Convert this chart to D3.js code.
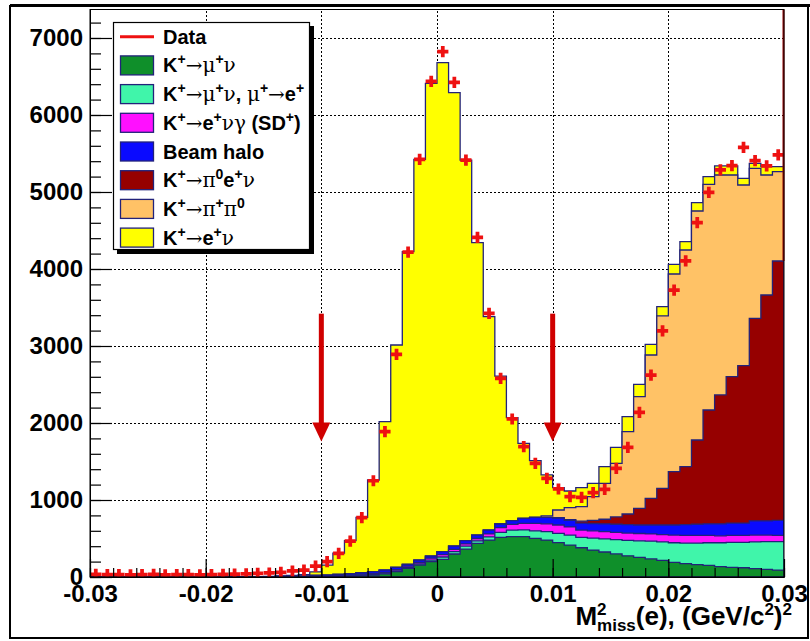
<!DOCTYPE html>
<html>
<head>
<meta charset="utf-8">
<script src="https://cdn.jsdelivr.net/npm/d3@7"></script>
<style>
  body { margin: 0; background: #fff; }
  svg { display: block; }
  text { font-family: "Liberation Sans", Arial, sans-serif; font-weight: bold; fill: #000; }
</style>
</head>
<body>
<svg id="chart" width="810" height="641"></svg>
<script>
// binning: 60 bins of M2miss(e) from -0.03 to 0.03 (GeV/c2)2
const binLo = -0.03
const binHi = 0.03
const nBins = 60

// MC components, entries per bin (stack order bottom -> top)
const kmunu = [0,0,0,0,0,0,0,0,0,0, 0,0,0,0,0,0,0,0,0,3,
  5,8,15,20,26,40,69,112,156,199, 229,299,363,437,480,515,524,524,502,480,
  446,415,380,350,325,300,275,255,235,215, 190,175,160,150,134,125,120,110,100,90]
const kmunuMuE = [0,0,0,0,0,0,0,0,0,0, 0,0,0,0,0,0,0,0,0,2,
  3,4,5,8,9,10,11,13,14,21, 31,31,37,33,40,65,86,88,98,110,
  121,130,135,155,170,185,200,215,230,240, 255,265,280,295,311,325,330,345,360,370]
const kenugSD = [0,0,0,0,0,0,0,0,0,0, 0,0,0,0,0,0,0,0,0,2,
  2,3,5,7,10,10,15,15,20,25, 30,30,30,30,40,60,74,85,97,100,
  108,105,95,95,95,95,95,95,95,95, 100,100,100,95,90,90,90,90,85,80]
const beamHalo = [0,0,0,0,0,0,0,0,0,0, 0,2,3,4,5,6,8,10,12,15,
  15,20,20,20,24,30,30,25,30,27, 39,42,42,45,50,48,47,65,78,85,
  90,85,90,95,100,105,110,110,115,125, 130,140,145,150,155,160,160,185,185,195]
const ke3 = [0,0,0,0,0,0,0,0,0,0, 0,0,0,0,0,0,0,0,0,0,
  0,0,0,0,0,0,0,0,0,0, 0,0,0,0,0,0,0,0,0,0,
  5,10,25,40,60,95,138,217,347,477, 693,753,1094,1479,1674,1902,2045,2629,2932,3369]
const kpipi0 = [0,0,0,0,0,0,0,0,0,0, 0,0,0,0,0,0,0,0,0,0,
  0,0,0,0,0,0,0,0,0,0, 0,0,0,0,0,0,0,0,0,20,
  100,155,188,308,466,696,1069,1450,1861,2238, 2567,2814,2974,2931,2857,2619,2346,1948,1559,1160]
const kenu = [0,0,0,0,0,0,0,0,0,0, 0,0,0,0,0,2,5,10,18,45,
  130,275,427,720,1191,1927,2888,4060,5204,6139, 6351,5888,4943,3797,2771,1922,1338,974,736,530,
  290,217,247,173,217,208,195,160,139,121, 126,108,108,99,117,117,87,65,108,65]

// data, entries per bin
const dataCounts = [35,30,32,28,30,33,28,30,32,28, 30,35,38,42,48,52,60,78,88,142,
  199,307,466,770,1250,1887,2892,4220,5424,6437, 6822,6424,5415,4411,3424,2580,2052,1692,1476,1281,
  1143,1043,1035,1095,1139,1411,1684,2139,2623,3195, 3727,4104,4601,4996,5286,5342,5580,5407,5338,5481]

const stackColors = ['#0f8f2a', '#40f5aa', '#ff10ff', '#0a0aff', '#960000', '#ffc266', '#ffff00']
const legendLabels = ['Data', 'K^{+}→μ^{+}ν', 'K^{+}→μ^{+}ν, μ^{+}→e^{+}', 'K^{+}→e^{+}νγ (SD^{+})',
  'Beam halo', 'K^{+}→π^{0}e^{+}ν', 'K^{+}→π^{+}π^{0}', 'K^{+}→e^{+}ν']

const xMajor = [-0.03, -0.02, -0.01, 0, 0.01, 0.02, 0.03]
const yMajor = [0, 1000, 2000, 3000, 4000, 5000, 6000, 7000]
const yMax = 7370

// selection cut arrows (x position, from, to in entries)
const cutX = [-0.01, 0.01]
const cutFrom = 3420
const cutTo = 1760

const svg = d3.select('#chart')
const x = d3.scaleLinear().domain([binLo, binHi]).range([90, 784])
const y = d3.scaleLinear().domain([0, yMax]).range([577, 9.5])
const bw = (binHi - binLo) / nBins
const edges = d3.range(nBins + 1).map(i => binLo + i * bw)

// outer canvas frame
svg.append('rect').attr('x', 10).attr('y', 6).attr('width', 798).attr('height', 632)
  .attr('fill', '#fff').attr('stroke', '#000').attr('stroke-width', 2)
svg.append('line').attr('x1', 10).attr('x2', 810).attr('y1', 5.5).attr('y2', 5.5)
  .attr('stroke', '#000').attr('stroke-width', 3)

svg.append('clipPath').attr('id', 'plotclip').append('rect')
  .attr('x', x(binLo)).attr('y', y(yMax)).attr('width', x(binHi) - x(binLo)).attr('height', y(0) - y(yMax))

// grid
const grid = svg.append('g').attr('stroke', '#000').attr('stroke-width', 1).attr('stroke-dasharray', '2,2')
grid.selectAll('.gx').data(xMajor.slice(1, -1)).join('line')
  .attr('x1', d => Math.round(x(d)) + 0.5).attr('x2', d => Math.round(x(d)) + 0.5)
  .attr('y1', y(0)).attr('y2', y(yMax))
grid.selectAll('.gy').data(yMajor.slice(1)).join('line')
  .attr('y1', d => Math.round(y(d)) + 0.5).attr('y2', d => Math.round(y(d)) + 0.5)
  .attr('x1', x(binLo)).attr('x2', x(binHi))

// stacked histograms: cumulative sums, drawn from the top one down
const comps = [kmunu, kmunuMuE, kenugSD, beamHalo, ke3, kpipi0, kenu]
const cums = []
let run = d3.range(nBins).map(() => 0)
comps.forEach(c => { run = run.map((v, i) => v + c[i]); cums.push(run) })

const area = d3.area()
  .x((d, i) => x(edges[i]))
  .y0(y(0))
  .y1(d => y(d))
  .curve(d3.curveStepAfter)

const hist = svg.append('g').attr('clip-path', 'url(#plotclip)')
for (let k = comps.length - 1; k >= 0; k--) {
  const vals = cums[k].concat([cums[k][nBins - 1]])
  hist.append('path').attr('d', area(vals))
    .attr('fill', stackColors[k]).attr('stroke', '#22227a').attr('stroke-width', 1.3)
}

// data points
const cross = d3.symbol(d3.symbolCross, 70)
svg.append('g').attr('clip-path', 'url(#plotclip)')
  .selectAll('path').data(dataCounts).join('path')
  .attr('d', cross)
  .attr('transform', (d, i) => `translate(${x(binLo + (i + 0.5) * bw)},${y(d)})`)
  .attr('fill', '#ee1111')

// red line on the right edge
svg.append('line').attr('x1', x(binHi) - 0.5).attr('x2', x(binHi) - 0.5)
  .attr('y1', y(yMax)).attr('y2', y(cums[4][nBins - 1]))
  .attr('stroke', '#960000').attr('stroke-width', 2)

// cut arrows
const arrows = svg.append('g').attr('fill', '#d00000')
cutX.forEach(cx => {
  const px = x(cx)
  const yTop = y(cutFrom), yTip = y(cutTo), yHead = yTip - 19
  arrows.append('rect').attr('x', px - 2.5).attr('y', yTop).attr('width', 5).attr('height', yHead - yTop + 1)
  arrows.append('path').attr('d', `M${px - 9},${yHead}L${px + 9},${yHead}L${px},${yTip}Z`)
})

// frame
svg.append('rect').attr('x', x(binLo)).attr('y', y(yMax))
  .attr('width', x(binHi) - x(binLo)).attr('height', y(0) - y(yMax))
  .attr('fill', 'none').attr('stroke', '#000').attr('stroke-width', 1)

// axes
const fmtX = d => Math.abs(d) < 1e-9 ? '0' : d.toFixed(2)
const xAxis = svg.append('g').attr('transform', `translate(0,${y(0)})`)
  .call(d3.axisBottom(x).tickValues(xMajor).tickSize(-18).tickSizeOuter(0).tickPadding(8).tickFormat(fmtX))
xAxis.append('g').call(d3.axisBottom(x).tickValues(d3.range(-0.03, 0.0301, 0.002)).tickSize(-9).tickSizeOuter(0).tickFormat(''))
const yAxis = svg.append('g').attr('transform', `translate(${x(binLo)},0)`)
  .call(d3.axisLeft(y).tickValues(yMajor).tickSize(-22).tickSizeOuter(0).tickPadding(7).tickFormat(d3.format('d')))
yAxis.append('g').call(d3.axisLeft(y).tickValues(d3.range(0, yMax, 200)).tickSize(-11).tickSizeOuter(0).tickFormat(''))
svg.selectAll('.tick line').attr('stroke', '#000').attr('stroke-width', 1.2)
svg.selectAll('.domain').attr('stroke', '#000')
svg.selectAll('.tick text').attr('font-size', 24).attr('font-weight', 'bold')
  .attr('font-family', '"Liberation Sans", Arial, sans-serif').attr('fill', '#000')

// axis title
const title = svg.append('text').attr('x', 792).attr('y', 625).attr('text-anchor', 'end').attr('font-size', 26)
title.append('tspan').text('M')
title.append('tspan').attr('font-size', 17).attr('dy', -10).text('2')
title.append('tspan').attr('font-size', 17).attr('dx', -9.5).attr('dy', 16).text('miss')
title.append('tspan').attr('dy', -6).text('(e), (GeV/c')
title.append('tspan').attr('font-size', 17).attr('dy', -10).text('2')
title.append('tspan').attr('dy', 10).text(')')
title.append('tspan').attr('font-size', 17).attr('dy', -10).text('2')

// legend
function richText (sel, str) {
  const parts = str.match(/\^\{[^}]*\}|[μνγπ→]+|[^\^μνγπ→]+/g)
  let raised = false
  parts.forEach(p => {
    const t = sel.append('tspan')
    if (p.startsWith('^{')) {
      t.text(p.slice(2, -1)).attr('font-size', 14).attr('dy', raised ? 0 : -8)
      raised = true
    } else {
      t.text(p).attr('dy', raised ? 8 : 0)
      raised = false
      if (/[μνγπ→]/.test(p)) t.attr('font-family', '"DejaVu Serif", "Liberation Serif", serif').attr('font-weight', 'normal')
    }
  })
}

const lg = svg.append('g')
lg.append('rect').attr('x', 117).attr('y', 26).attr('width', 197).attr('height', 228).attr('fill', '#000')
lg.append('rect').attr('x', 113.5).attr('y', 22.5).attr('width', 196).attr('height', 227)
  .attr('fill', '#fff').attr('stroke', '#000').attr('stroke-width', 1.2)
const legendColors = [null].concat(stackColors)
legendLabels.forEach((lab, i) => {
  const cy = 36.7 + i * 28.7
  if (i === 0) {
    lg.append('line').attr('x1', 120).attr('x2', 154).attr('y1', cy).attr('y2', cy)
      .attr('stroke', '#ee1111').attr('stroke-width', 3)
  } else {
    lg.append('rect').attr('x', 120.5).attr('y', cy - 9.5).attr('width', 33).attr('height', 19)
      .attr('fill', legendColors[i]).attr('stroke', '#22227a').attr('stroke-width', 1.3)
  }
  const t = lg.append('text').attr('x', 163).attr('y', cy + 7).attr('font-size', 20)
  richText(t, lab)
})
</script>
</body>
</html>
